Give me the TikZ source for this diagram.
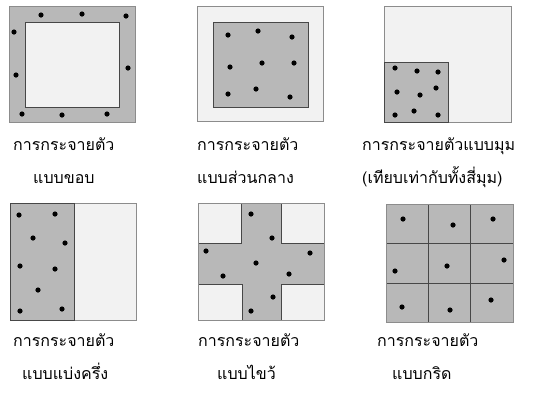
\documentclass[tikz,border=0pt]{standalone}
\usepackage{fontspec}
\newfontfamily\thaifont[Script=Thai]{Loma}
\begin{document}
\begin{tikzpicture}[x=1pt,y=-1pt,
  darkfill/.style={fill=black!28},
  lightfill/.style={fill=black!5},
  outerline/.style={draw=black!45,line width=1pt},
  innerline/.style={draw=black!72,line width=0.9pt},
  dot/.style={fill=black},
  lbl/.style={anchor=base west,inner sep=0pt,font=\thaifont\fontsize{16}{18}\selectfont}]
\useasboundingbox (0,0) rectangle (540,392);
% Panel 1: edge
\fill[darkfill] (9,6) rectangle (135,122);
\draw[outerline] (9,6) rectangle (135,122);
\fill[lightfill] (25,22) rectangle (119,107);
\draw[innerline] (25,22) rectangle (119,107);
\foreach \p in {(41,15),(82,14),(126,16),(14,32),(16,75),(128,68),(22,114),(62,115),(107,114)}
  \fill[dot] \p circle (2.6);
% Panel 2: centre
\fill[lightfill] (197,6) rectangle (323,121);
\draw[outerline] (197,6) rectangle (323,121);
\fill[darkfill] (213,22) rectangle (308,107);
\draw[innerline] (213,22) rectangle (308,107);
\foreach \p in {(228,35),(258,31),(292,37),(230,67),(262,63),(294,63),(228,94),(256,89),(290,97)}
  \fill[dot] \p circle (2.6);
% Panel 3: corner
\fill[lightfill] (384,6) rectangle (511,122);
\draw[outerline] (384,6) rectangle (511,122);
\fill[darkfill] (384,62) rectangle (448,122);
\draw[innerline] (384,62) rectangle (448,122);
\foreach \p in {(395,68),(417,71),(438,72),(397,92),(420,95),(436,88),(395,115),(414,111),(438,115)}
  \fill[dot] \p circle (2.6);
% Panel 4: half
\fill[lightfill] (10,203) rectangle (136,320);
\draw[outerline] (10,203) rectangle (136,320);
\fill[darkfill] (10,203) rectangle (74,320);
\draw[innerline] (10,203) rectangle (74,320);
\foreach \p in {(19,215),(55,214),(33,238),(65,243),(20,266),(55,269),(38,290),(20,311),(62,309)}
  \fill[dot] \p circle (2.6);
% Panel 5: cross
\fill[lightfill] (198,203) rectangle (324,320);
\fill[darkfill] (241,203) -- (281,203) -- (281,243) -- (324,243) -- (324,284) -- (281,284) -- (281,320) -- (242,320) -- (242,284) -- (198,284) -- (198,243) -- (241,243) -- cycle;
\draw[innerline] (241,203) -- (241,243) -- (198,243);
\draw[innerline] (281,203) -- (281,243) -- (324,243);
\draw[innerline] (198,284) -- (242,284) -- (242,320);
\draw[innerline] (324,284) -- (281,284) -- (281,320);
\draw[outerline] (198,203) rectangle (324,320);
\foreach \p in {(251,214),(272,238),(206,251),(310,253),(256,263),(223,276),(289,274),(273,297),(251,311)}
  \fill[dot] \p circle (2.6);
% Panel 6: grid
\fill[darkfill] (386,204) rectangle (513,322);
\draw[innerline] (428,204) -- (428,322);
\draw[innerline] (470,204) -- (470,322);
\draw[innerline] (386,243) -- (513,243);
\draw[innerline] (386,283) -- (513,283);
\draw[outerline] (386,204) rectangle (513,322);
\foreach \p in {(403,219),(453,225),(493,219),(395,271),(447,266),(504,260),(402,307),(450,310),(491,300)}
  \fill[dot] \p circle (2.6);
% Labels
\node[lbl] (l1a) at (13,150) {การกระจายตัว};
\node[lbl] (l1b) at (33,183) {แบบขอบ};
\node[lbl] (l2a) at (197,150) {การกระจายตัว};
\node[lbl] (l2b) at (197,183) {แบบส่วนกลาง};
\node[lbl] (l3a) at (362,150) {การกระจายตัวแบบมุม};
\node[lbl] (l3b) at (362,183) {(เทียบเท่ากับทั้งสี่มุม)};
\node[lbl] (l4a) at (13,346) {การกระจายตัว};
\node[lbl] (l4b) at (22,379) {แบบแบ่งครึ่ง};
\node[lbl] (l5a) at (198,346) {การกระจายตัว};
\node[lbl] (l5b) at (217,379) {แบบไขว้};
\node[lbl] (l6a) at (377,346) {การกระจายตัว};
\node[lbl] (l6b) at (392,379) {แบบกริด};
\end{tikzpicture}
\end{document}
